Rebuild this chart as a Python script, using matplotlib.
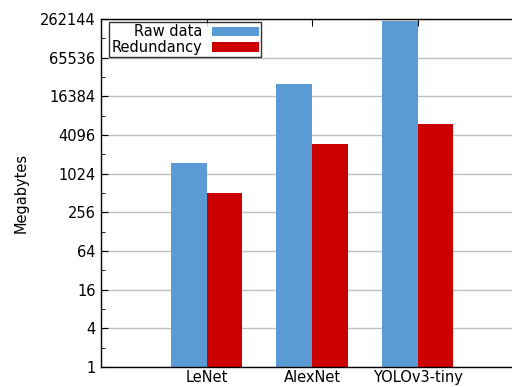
import matplotlib
matplotlib.use('Agg')
import matplotlib.pyplot as plt
import matplotlib.ticker as mticker
import numpy as np

networks = ['LeNet', 'AlexNet', 'YOLOv3-tiny']
raw_data = [1490, 25900, 248000]
redundancy = [508, 3000, 6150]

FS = 10.5

fig = plt.figure(figsize=(5.12, 3.87), dpi=100)
# axes run past the right edge of the canvas (xlim 0..4)
ax = fig.add_axes([101 / 512, 20 / 387, 422 / 512, 348 / 387])

x = np.arange(1, len(networks) + 1)
w = 0.34
ax.bar(x - w / 2, raw_data, w, color='#5b9bd5', label='Raw data', zorder=2)
ax.bar(x + w / 2, redundancy, w, color='#cc0000', label='Redundancy', zorder=2)

ax.set_yscale('log', base=2)
ax.set_ylim(1, 2 ** 18)
ax.set_xlim(0, 4)

major = [4 ** k for k in range(10)]
ax.set_yticks(major)
ax.set_yticklabels([str(v) for v in major])
ax.set_yticks([2 ** k for k in range(1, 18, 2)], minor=True)
ax.yaxis.set_minor_formatter(mticker.NullFormatter())
ax.yaxis.grid(True, which='major', color='#c0c0c0', linewidth=1.0, zorder=0)
ax.set_axisbelow(True)

ax.set_xticks(x)
ax.set_xticklabels(networks)
ax.tick_params(axis='both', which='both', direction='in', labelsize=FS,
               top=True, right=True, colors='black')
ax.tick_params(axis='y', which='major', length=5, pad=4)
ax.tick_params(axis='y', which='minor', length=3)
ax.tick_params(axis='x', length=5, pad=2)

for s in ax.spines.values():
    s.set_linewidth(1.0)

ax.set_ylabel('Megabytes', fontsize=FS, labelpad=8)

leg = ax.legend(loc='upper left', bbox_to_anchor=(0.019, 0.991), markerfirst=False,
                fontsize=FS, frameon=True, fancybox=False, edgecolor='black',
                handlelength=3.2, handleheight=0.6, handletextpad=0.7,
                labelspacing=0.05, borderpad=0.15, borderaxespad=0)
leg.get_frame().set_linewidth(1.0)
for t in leg.get_texts():
    t.set_ha('right')
leg._legend_box.align = 'right'

fig.savefig('out.png', dpi=100)
